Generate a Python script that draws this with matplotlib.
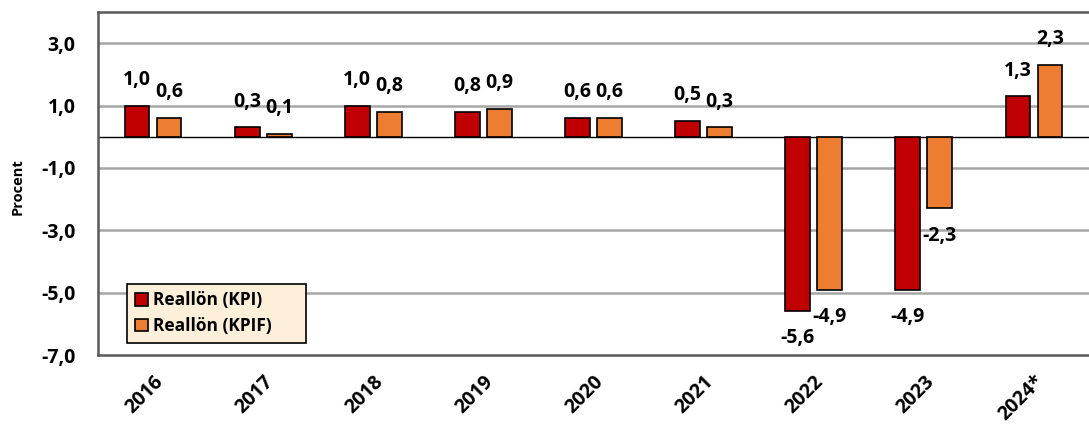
import numpy as np
import matplotlib.pyplot as plt
import matplotlib.ticker as ticker

# ==========================================
# DATA
# ==========================================
years = ['2016', '2017', '2018', '2019', '2020', '2021', '2022', '2023', '2024*']
real_kpi = [1.0, 0.3, 1.0, 0.8, 0.6, 0.5, -5.6, -4.9, 1.3]
real_kpif = [0.6, 0.1, 0.8, 0.9, 0.6, 0.3, -4.9, -2.3, 2.3]
y_ticks = [3, 1, -1, -3, -5, -7]

RED = '#C00000'
ORANGE = '#ED7D31'

plt.rcParams['font.family'] = ['Open Sans', 'DejaVu Sans']
plt.rcParams['font.weight'] = 'bold'

fig = plt.figure(figsize=(10.89, 4.30), dpi=100)
ax = fig.add_axes([0.09, 0.1744, 0.91, 0.7976])

x = np.arange(len(years))
width = 0.225
offset = 0.145

b1 = ax.bar(x - offset, real_kpi, width, color=RED, edgecolor='black',
            linewidth=1.2, label='Reallön (KPI)', zorder=3)
b2 = ax.bar(x + offset, real_kpif, width, color=ORANGE, edgecolor='black',
            linewidth=1.2, label='Reallön (KPIF)', zorder=3)

# etiquetas de valor
for bars, vals in ((b1, real_kpi), (b2, real_kpif)):
    for rect, v in zip(bars, vals):
        cx = rect.get_x() + rect.get_width() / 2
        dy = 18.5 if v >= 0 else -19.5
        ax.annotate(f'{v:.1f}'.replace('.', ','), (cx, v),
                    xytext=(0, dy), textcoords='offset points',
                    ha='center', va='center', fontsize=14,
                    fontweight='bold', color='black', zorder=4)

ax.set_xlim(-0.5, len(years) - 0.5)
ax.set_ylim(-7, 4)
ax.set_yticks(y_ticks)
ax.yaxis.set_major_formatter(ticker.FuncFormatter(lambda v, _: f'{v:.1f}'.replace('.', ',')))
ax.tick_params(axis='y', length=0, pad=16, labelsize=14)
ax.tick_params(axis='x', length=0, pad=12, labelsize=14)
ax.set_xticks(x)
ax.set_xticklabels(years, rotation=45, ha='right', rotation_mode='anchor',
                   fontweight='bold')
for lbl in ax.get_yticklabels():
    lbl.set_fontweight('bold')

for yv in [3, 1, -1, -3, -5]:
    ax.axhline(yv, color='#A6A6A6', linewidth=1.8, zorder=1)
ax.axhline(0, color='black', linewidth=1.0, zorder=2)

ax.spines['right'].set_visible(False)
for s in ('left', 'top', 'bottom'):
    ax.spines[s].set_color('#595959')
    ax.spines[s].set_linewidth(1.8)

ax.set_ylabel('Procent', fontsize=10.5, fontweight='bold')
ax.yaxis.set_label_coords(-0.074, 0.49)

leg = ax.legend(loc='lower left', bbox_to_anchor=(0.029, 0.035, 0.181, 0.163),
                mode='expand', borderaxespad=0,
                prop={'size': 12.5, 'weight': 'bold'},
                handlelength=0.75, handleheight=0.75, handletextpad=0.3,
                labelspacing=0.45, fancybox=False, framealpha=1,
                borderpad=0.45)
leg.get_frame().set_facecolor('#FDEFDA')
leg.get_frame().set_edgecolor('black')
leg.get_frame().set_linewidth(1.2)
leg.set_zorder(5)

fig.savefig('out.png', dpi=100)
